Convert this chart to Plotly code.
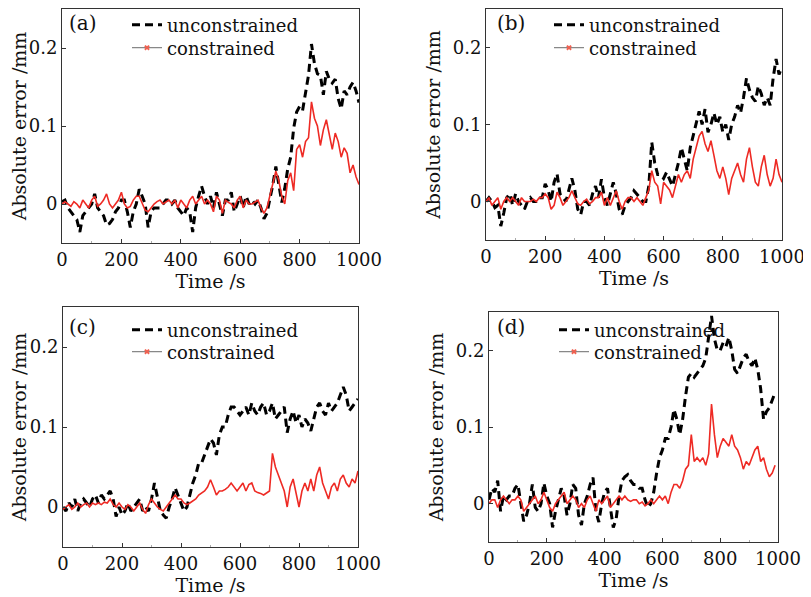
import plotly.graph_objects as go

t_abc = list(range(0, 1001, 10))
t_d = list(range(0, 991, 10))

a_unc = [0.003,0.005,-0.005,-0.01,-0.015,-0.02,-0.036,-0.015,-0.01,-0.005,0.0,0.013,-0.005,-0.01,-0.015,-0.027,-0.025,-0.02,-0.01,-0.005,
         0.005,0.005,-0.01,-0.03,-0.01,0.0,0.019,0.01,0.0,-0.03,-0.01,-0.005,-0.005,-0.005,0.0,0.005,0.005,0.0,0.005,-0.005,
         -0.01,-0.015,-0.005,-0.01,-0.036,-0.005,0.01,0.023,0.01,0.0,0.01,-0.005,0.015,0.0,-0.015,0.005,0.005,0.015,-0.01,0.0,
         0.01,-0.005,0.01,0.0,0.005,0.0,0.005,-0.005,-0.019,-0.012,0.005,0.025,0.048,0.025,0.002,0.02,0.045,0.06,0.097,0.118,
         0.125,0.12,0.143,0.165,0.205,0.18,0.167,0.165,0.14,0.17,0.16,0.155,0.16,0.135,0.122,0.145,0.14,0.15,0.156,0.145,0.13]
a_con = [0.0,0.003,0.0,-0.003,0.003,0.0,-0.005,0.005,0.0,-0.005,0.005,0.01,-0.003,0.0,0.005,0.013,0.0,-0.005,0.0,0.005,
         0.015,0.0,-0.005,-0.003,0.005,0.01,0.01,0.0,-0.008,-0.01,-0.005,0.0,0.003,0.005,0.0,0.003,0.005,0.0,0.005,-0.005,
         0.005,0.0,-0.005,0.005,0.01,0.0,0.005,0.01,0.0,0.005,0.0,-0.01,0.01,0.005,-0.012,0.005,0.002,0.0,-0.005,0.005,
         0.01,-0.005,0.005,0.0,0.0,0.003,0.005,-0.005,-0.012,-0.005,0.01,0.025,0.042,0.03,0.01,0.0,0.03,0.04,0.017,0.07,
         0.076,0.06,0.08,0.085,0.131,0.11,0.1,0.075,0.095,0.108,0.09,0.07,0.091,0.08,0.06,0.072,0.065,0.04,0.05,0.035,0.025]

b_unc = [0.0,0.005,0.0,-0.008,-0.005,-0.032,-0.015,0.005,0.01,-0.005,0.01,0.0,-0.005,-0.01,0.0,0.005,0.0,0.0,0.005,0.005,
         0.023,0.015,0.0,0.025,0.036,0.01,0.005,0.0,0.015,0.03,0.015,-0.01,-0.017,0.0,0.0,-0.005,0.01,0.02,0.005,0.029,
         0.005,-0.005,0.01,0.025,0.01,-0.01,-0.017,-0.005,0.0,0.005,0.014,0.01,0.005,0.0,0.0,0.02,0.077,0.05,0.035,0.035,
         0.03,0.038,0.03,0.02,0.035,0.05,0.07,0.055,0.04,0.07,0.085,0.1,0.117,0.1,0.12,0.09,0.1,0.115,0.1,0.11,
         0.09,0.1,0.08,0.1,0.11,0.125,0.115,0.135,0.16,0.145,0.135,0.13,0.15,0.14,0.125,0.135,0.125,0.16,0.185,0.165,0.175]
b_con = [0.0,0.005,-0.005,0.0,0.005,-0.01,0.0,0.005,0.0,0.005,0.0,-0.005,0.005,0.0,0.0,0.0,0.003,0.0,0.005,0.005,
         0.01,0.005,-0.01,-0.005,0.012,0.005,-0.005,0.0,0.005,0.014,0.005,-0.003,-0.005,0.0,0.003,-0.003,0.0,0.005,0.005,0.012,
         -0.005,0.005,-0.005,0.005,0.014,0.0,-0.01,0.0,0.005,0.005,0.0,0.005,0.0,-0.005,0.005,0.015,0.04,0.025,0.02,-0.003,
         0.025,0.02,0.015,0.005,0.02,0.035,0.025,0.035,0.04,0.03,0.055,0.07,0.085,0.091,0.075,0.065,0.079,0.06,0.04,0.03,
         0.045,0.03,0.009,0.03,0.04,0.05,0.035,0.025,0.055,0.07,0.045,0.025,0.02,0.045,0.06,0.035,0.02,0.03,0.055,0.035,0.025]

c_unc = [0.0,-0.005,0.005,0.0,0.01,-0.005,0.005,0.01,0.005,0.0,0.01,0.015,0.005,0.015,0.01,0.015,0.02,0.01,-0.012,0.0,
         -0.01,-0.005,0.005,-0.005,0.0,0.005,0.01,-0.005,0.0,-0.005,0.01,0.03,0.01,-0.005,-0.01,-0.014,0.0,0.01,0.024,0.015,
         0.005,-0.005,0.0,0.015,0.03,0.04,0.055,0.055,0.065,0.075,0.085,0.08,0.065,0.09,0.1,0.1,0.115,0.125,0.125,0.12,
         0.115,0.12,0.125,0.115,0.13,0.12,0.115,0.125,0.13,0.115,0.12,0.13,0.11,0.115,0.12,0.125,0.093,0.11,0.12,0.105,
         0.115,0.1,0.11,0.105,0.095,0.11,0.125,0.13,0.12,0.115,0.13,0.12,0.125,0.13,0.14,0.15,0.14,0.12,0.125,0.13,0.135]
c_con = [-0.003,0.0,0.003,-0.003,0.0,0.005,0.0,0.003,0.005,0.0,0.005,0.003,0.005,0.003,0.006,0.005,0.01,0.003,0.0,0.005,
         0.0,-0.003,0.003,0.0,-0.005,0.0,0.005,-0.003,-0.008,0.003,0.01,0.005,0.0,-0.003,-0.005,0.0,0.005,0.01,0.015,0.01,
         0.01,0.005,0.003,0.005,0.008,0.01,0.015,0.018,0.02,0.025,0.034,0.025,0.015,0.02,0.02,0.022,0.025,0.03,0.025,0.02,
         0.025,0.03,0.02,0.028,0.03,0.02,0.018,0.017,0.015,0.017,0.02,0.067,0.05,0.04,0.03,0.02,0.0,0.025,0.035,0.015,
         0.0,0.02,0.03,0.02,0.035,0.02,0.04,0.05,0.03,0.02,0.01,0.025,0.03,0.02,0.035,0.04,0.03,0.025,0.035,0.03,0.045]

d_unc = [0.005,0.02,0.015,0.03,-0.01,0.01,0.005,0.01,0.01,0.02,0.025,0.0,-0.023,-0.015,0.0,0.025,-0.005,-0.01,0.0,0.027,
         0.01,0.0,-0.031,-0.01,0.005,0.02,0.01,-0.015,0.0,0.025,0.02,-0.015,-0.028,0.0,0.01,0.025,0.034,-0.01,-0.024,0.0,
         0.015,0.02,-0.005,-0.031,-0.02,0.01,0.03,0.035,0.038,0.03,0.025,0.025,0.02,0.02,0.005,-0.005,0.0,0.015,0.04,0.06,
         0.07,0.085,0.085,0.1,0.123,0.11,0.09,0.11,0.14,0.165,0.17,0.165,0.17,0.175,0.18,0.19,0.22,0.245,0.215,0.2,
         0.2,0.21,0.205,0.217,0.2,0.175,0.17,0.18,0.19,0.195,0.185,0.18,0.19,0.175,0.15,0.11,0.12,0.125,0.135,0.145]
d_con = [0.0,0.005,0.005,-0.005,0.005,0.01,0.005,0.0,0.005,0.005,0.01,0.005,-0.01,-0.005,0.0,0.005,0.01,0.0,0.005,0.015,
         0.005,-0.005,-0.01,0.0,0.005,0.01,0.015,0.0,0.005,0.01,0.005,-0.005,0.0,-0.005,0.005,0.01,0.0,-0.01,0.005,0.0,
         0.005,0.01,-0.005,0.0,0.005,0.01,0.005,0.01,0.005,0.003,0.005,0.005,0.0,0.002,-0.003,0.0,0.005,0.0,0.005,0.01,
         0.005,0.01,0.0,0.015,0.025,0.025,0.02,0.03,0.045,0.05,0.09,0.055,0.06,0.055,0.06,0.05,0.065,0.13,0.09,0.06,
         0.075,0.085,0.08,0.075,0.09,0.075,0.07,0.06,0.045,0.055,0.05,0.06,0.07,0.075,0.055,0.06,0.045,0.035,0.04,0.05]

panel_labels = ["(a)", "(b)", "(c)", "(d)"]
legend_names = ["unconstrained", "constrained"]
x_title = "Time /s"
y_title = "Absolute error /mm"
x_ticks = [0, 200, 400, 600, 800, 1000]
y_ticks = [0, 0.1, 0.2]
y_ticktext = ["0", "0.1", "0.2"]

FONT = "DejaVu Serif"
BLACK = "#000000"
RED = "#ee2a24"
TXT = "#111111"

panels = [
    (t_abc, a_unc, a_con),
    (t_abc, b_unc, b_con),
    (t_abc, c_unc, c_con),
    (t_d, d_unc, d_con),
]

# page offset (browser body margin) and figure size
OFF = 8
FW, FH = 803, 589

def px(x):
    return (x - OFF) / FW

def py(y):
    return 1 - (y - OFF) / FH

# plot-area boxes in window pixels: left, right, top, bottom
boxes = [(62, 359, 9, 243), (486, 782, 9, 240), (63, 358, 307, 547), (489, 778, 312, 542)]
# legend text start x, row centres y
legend_pos = [(127, 25, 48), (549, 25, 48), (127, 330, 352), (554, 330, 352)]
label_pos = [(67, 23), (495, 23), (67, 327), (495, 327)]

fig = go.Figure()
layout = dict(width=FW, height=FH, margin=dict(l=0, r=0, t=0, b=0, autoexpand=False),
              paper_bgcolor="white", plot_bgcolor="white",
              font=dict(family=FONT, size=18, color=TXT), annotations=[])

for i, ((tt, unc, con), box) in enumerate(zip(panels, boxes)):
    n = i + 1
    xa = "x" if n == 1 else f"x{n}"
    ya = "y" if n == 1 else f"y{n}"
    lg1 = "legend" if i == 0 else f"legend{2 * i + 1}"
    lg2 = f"legend{2 * i + 2}"
    fig.add_trace(go.Scatter(x=tt, y=unc, mode="lines", xaxis=xa, yaxis=ya,
                             line=dict(color=BLACK, width=3, dash="8px,5px"),
                             name=legend_names[0], legend=lg1, showlegend=True))
    fig.add_trace(go.Scatter(x=tt, y=con, mode="lines", xaxis=xa, yaxis=ya,
                             line=dict(color=RED, width=1.6), name=legend_names[1],
                             legend=lg2, showlegend=False))
    # legend-only entry: gray line with a small red marker
    fig.add_trace(go.Scatter(x=[None], y=[None], mode="lines+markers", xaxis=xa, yaxis=ya,
                             line=dict(color="#888888", width=1.2),
                             marker=dict(symbol="x", size=5, color="#f06050"),
                             name=legend_names[1], legend=lg2, showlegend=True))
    l, r, t, b = box
    axcommon = dict(showline=True, linecolor="#333333", linewidth=1, mirror=True,
                    ticks="inside", ticklen=4, tickcolor="#333333", showgrid=False,
                    zeroline=False, automargin=False,
                    tickfont=dict(family=FONT, size=18, color=TXT))
    layout["xaxis" if n == 1 else f"xaxis{n}"] = dict(
        domain=[px(l), px(r)], anchor=ya, range=[0, 1000], tickvals=x_ticks,
        title=dict(text=x_title, standoff=0, font=dict(family=FONT, size=19, color=TXT)),
        minor=dict(ticks="inside", ticklen=2, dtick=100, tickcolor="#aaaaaa"),
        **axcommon)
    layout["yaxis" if n == 1 else f"yaxis{n}"] = dict(
        domain=[py(b), py(t)], anchor=xa, range=[-0.05, 0.25],
        tickvals=y_ticks, ticktext=y_ticktext,
        title=dict(text=y_title, standoff=7, font=dict(family=FONT, size=19, color=TXT)),
        **axcommon)
    lx, ly1, ly2 = legend_pos[i]
    for lg, ly in ((lg1, ly1), (lg2, ly2)):
        layout[lg] = dict(x=px(lx), y=py(ly), xanchor="left", yanchor="middle",
                          bgcolor="rgba(0,0,0,0)", borderwidth=0, tracegroupgap=0,
                          font=dict(family=FONT, size=18, color=TXT), itemwidth=30)
    lx_, ly_ = label_pos[i]
    layout["annotations"].append(dict(text=panel_labels[i], x=px(lx_), y=py(ly_),
                                      xref="paper", yref="paper", xanchor="left", yanchor="middle",
                                      showarrow=False, font=dict(family=FONT, size=20, color=TXT)))

fig.update_layout(**layout)
fig.write_html("out.html")
